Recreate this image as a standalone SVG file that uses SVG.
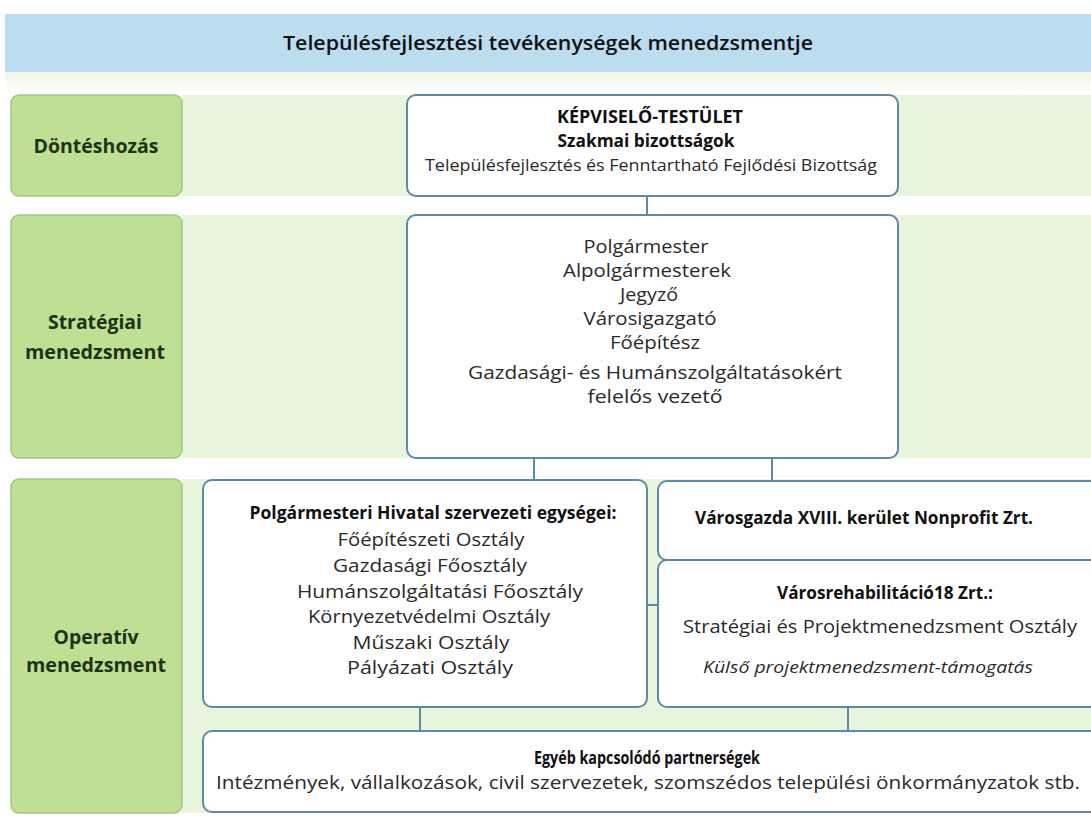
<svg xmlns="http://www.w3.org/2000/svg" width="1091" height="817" viewBox="0 0 1091 817">
<style>
.band{fill:#e8f4dc}
.lbl{fill:#bedf94;stroke:#a3c884;stroke-width:1.5}
.lt{font-family:"Open Sans","Liberation Sans",sans-serif;font-weight:bold;font-size:19px;fill:#1f3314;text-anchor:middle}
.box{fill:#ffffff;stroke:#5d8aa6;stroke-width:2}
.t{font-family:"Open Sans","Liberation Sans",sans-serif;font-size:18px;fill:#2a2a2a;text-anchor:middle}
.b{font-weight:bold;fill:#111}
.i{font-style:italic}
.con{stroke:#5d8aa6;stroke-width:2;fill:none}
</style>
<defs>
<linearGradient id="fade" x1="0" y1="0" x2="0" y2="1">
<stop offset="0" stop-color="#f1f7ea"/>
<stop offset="1" stop-color="#ffffff"/>
</linearGradient>
</defs>
<rect width="1091" height="817" fill="#ffffff"/>
<g id="title">
<rect x="5" y="14" width="1086" height="58" fill="#bcdcef"/>
<rect x="5" y="72" width="1086" height="22" fill="url(#fade)"/>
<text x="548" y="50" class="t" style="font-size:20px;fill:#111;font-weight:600" textLength="530" lengthAdjust="spacingAndGlyphs">Településfejlesztési tevékenységek menedzsmentje</text>
</g>
<g id="bands">
<rect class="band" x="182" y="95" width="909" height="101"/>
<rect class="band" x="182" y="215" width="909" height="243"/>
<rect class="band" x="182" y="479" width="909" height="334"/>
</g>
<g id="label-donteshozas">
<rect class="lbl" x="11" y="95" width="171" height="101" rx="8"/>
<text class="lt" x="96" y="153" textLength="125" lengthAdjust="spacingAndGlyphs">Döntéshozás</text>
</g>
<g id="label-strategiai">
<rect class="lbl" x="11" y="215" width="171" height="243" rx="8"/>
<text class="lt" x="95" y="329" textLength="94" lengthAdjust="spacingAndGlyphs">Stratégiai</text>
<text class="lt" x="95" y="359" textLength="140" lengthAdjust="spacingAndGlyphs">menedzsment</text>
</g>
<g id="label-operativ">
<rect class="lbl" x="11" y="479" width="171" height="334" rx="8"/>
<text class="lt" x="96" y="644" textLength="85" lengthAdjust="spacingAndGlyphs">Operatív</text>
<text class="lt" x="96" y="672" textLength="140" lengthAdjust="spacingAndGlyphs">menedzsment</text>
</g>
<g id="connectors">
<line class="con" x1="647" y1="196" x2="647" y2="215"/>
<line class="con" x1="534" y1="458" x2="534" y2="480"/>
<line class="con" x1="772" y1="458" x2="772" y2="481"/>
<line class="con" x1="647" y1="605" x2="658" y2="605"/>
<line class="con" x1="420" y1="707" x2="420" y2="731"/>
<line class="con" x1="848" y1="707" x2="848" y2="731"/>
</g>
<g id="node-kepviselo">
<rect class="box" x="407" y="95" width="491" height="101" rx="9"/>
<text class="t b" x="650" y="123" style="font-size:17px" textLength="186" lengthAdjust="spacingAndGlyphs">KÉPVISELŐ-TESTÜLET</text>
<text class="t b" x="646" y="147" style="font-size:17px" textLength="177" lengthAdjust="spacingAndGlyphs">Szakmai bizottságok</text>
<text class="t" x="651" y="171" style="font-size:16px" textLength="452" lengthAdjust="spacingAndGlyphs">Településfejlesztés és Fenntartható Fejlődési Bizottság</text>
</g>
<g id="node-polgarmester">
<rect class="box" x="407" y="215" width="491" height="243" rx="9"/>
<text class="t" x="646" y="253" textLength="125" lengthAdjust="spacingAndGlyphs">Polgármester</text>
<text class="t" x="647" y="277" textLength="168" lengthAdjust="spacingAndGlyphs">Alpolgármesterek</text>
<text class="t" x="649" y="301" textLength="58" lengthAdjust="spacingAndGlyphs">Jegyző</text>
<text class="t" x="650" y="325" textLength="133" lengthAdjust="spacingAndGlyphs">Városigazgató</text>
<text class="t" x="655" y="349" textLength="90" lengthAdjust="spacingAndGlyphs">Főépítész</text>
<text class="t" x="655" y="379" textLength="374" lengthAdjust="spacingAndGlyphs">Gazdasági- és Humánszolgáltatásokért</text>
<text class="t" x="655" y="403" textLength="135" lengthAdjust="spacingAndGlyphs">felelős vezető</text>
</g>
<g id="node-hivatal">
<rect class="box" x="203" y="480" width="444" height="227" rx="9"/>
<text class="t b" x="433" y="519" style="font-size:17px" textLength="367" lengthAdjust="spacingAndGlyphs">Polgármesteri Hivatal szervezeti egységei:</text>
<text class="t" x="431" y="546" textLength="187" lengthAdjust="spacingAndGlyphs">Főépítészeti Osztály</text>
<text class="t" x="430" y="572" textLength="194" lengthAdjust="spacingAndGlyphs">Gazdasági Főosztály</text>
<text class="t" x="440" y="598" textLength="286" lengthAdjust="spacingAndGlyphs">Humánszolgáltatási Főosztály</text>
<text class="t" x="429" y="623" textLength="242" lengthAdjust="spacingAndGlyphs">Környezetvédelmi Osztály</text>
<text class="t" x="431" y="649" textLength="157" lengthAdjust="spacingAndGlyphs">Műszaki Osztály</text>
<text class="t" x="430" y="674" textLength="166" lengthAdjust="spacingAndGlyphs">Pályázati Osztály</text>
</g>
<g id="node-varosgazda">
<rect class="box" x="658" y="481" width="450" height="79" rx="9"/>
<text class="t b" x="864" y="524" style="font-size:17px" textLength="338" lengthAdjust="spacingAndGlyphs">Városgazda XVIII. kerület Nonprofit Zrt.</text>
</g>
<g id="node-varosrehab">
<rect class="box" x="658" y="560" width="450" height="147" rx="9"/>
<text class="t b" x="885" y="599" style="font-size:17px" textLength="216" lengthAdjust="spacingAndGlyphs">Városrehabilitáció18 Zrt.:</text>
<text class="t" x="880" y="633" textLength="394" lengthAdjust="spacingAndGlyphs">Stratégiai és Projektmenedzsment Osztály</text>
<text class="t i" x="868" y="673" style="font-size:17px" textLength="330" lengthAdjust="spacingAndGlyphs">Külső projektmenedzsment-támogatás</text>
</g>
<g id="node-egyeb">
<rect class="box" x="203" y="731" width="905" height="81" rx="9"/>
<text class="t b" x="647" y="764" style="font-size:17px" textLength="226" lengthAdjust="spacingAndGlyphs">Egyéb kapcsolódó partnerségek</text>
<text class="t" x="648" y="789" textLength="864" lengthAdjust="spacingAndGlyphs">Intézmények, vállalkozások, civil szervezetek, szomszédos települési önkormányzatok stb.</text>
</g>
</svg>
